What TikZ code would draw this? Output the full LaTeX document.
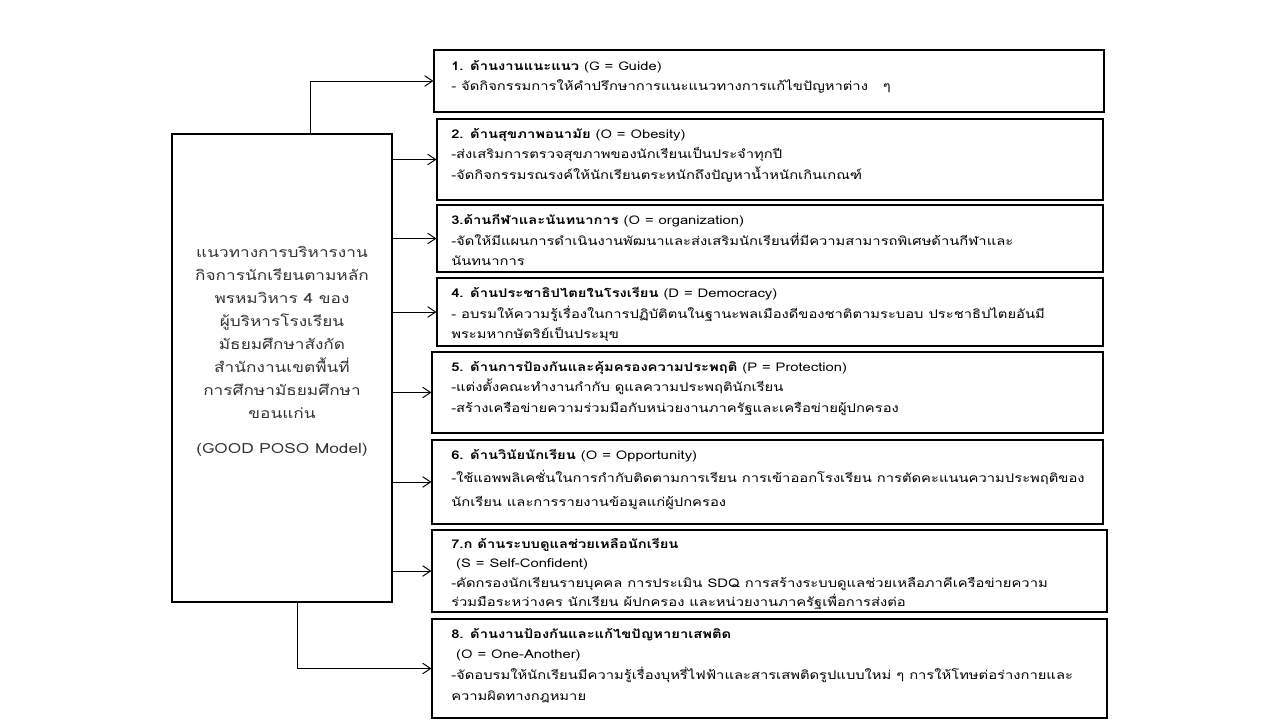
\documentclass[tikz,border=0pt]{standalone}
\usepackage{fontspec}
\setmainfont[Script=Thai,FakeStretch=1.23]{Loma}
\usetikzlibrary{arrows.meta,fit}

\tikzset{
	gbox/.style={draw,line width=0.9pt,inner sep=0pt},
	gtext/.style={anchor=north west,inner sep=0.75pt,align=left,font=\fontsize{9}{15.5}\selectfont},
	mtext/.style={anchor=north,inner sep=0.75pt,align=center,font=\fontsize{10.5}{17.25}\selectfont,text=black!80},
	arr/.style={-{Straight Barb[length=6pt,width=8pt]},line width=0.7pt}
}

\begin{document}
\begin{tikzpicture}[x=0.75pt,y=0.75pt,yscale=-1,xscale=1]
	\useasboundingbox (0,0) rectangle (1280,720);
	% main box and the eight parts
	\node [gbox,fit={(172,134) (392,602)}] (main) {};
	\node [gbox,fit={(434,50) (1104,112)}] (g1) {};
	\node [gbox,fit={(437,119) (1103,200)}] (g2) {};
	\node [gbox,fit={(437,205) (1103,272)}] (g3) {};
	\node [gbox,fit={(437,278) (1103,346)}] (g4) {};
	\node [gbox,fit={(432,352) (1103,433)}] (g5) {};
	\node [gbox,fit={(432,440) (1103,524)}] (g6) {};
	\node [gbox,fit={(432,530) (1107,612)}] (g7) {};
	\node [gbox,fit={(432,619) (1107,718)}] (g8) {};
	% texts
	\draw (282,245) node [mtext] (mainlbl) {แนวทางการบริหารงาน\\กิจการนักเรียนตามหลัก\\พรหมวิหาร 4 ของ\\ผู้บริหารโรงเรียน\\มัธยมศึกษาสังกัด\\สำนักงานเขตพื้นที่\\การศึกษามัธยมศึกษา\\ขอนแก่น\\[9pt](GOOD POSO Model)};
	\draw (450,59) node [gtext] (t1) {\textbf{1. ด้านงานแนะแนว} (G = Guide)\\- จัดกิจกรรมการให้คำปรึกษาการแนะแนวทางการแก้ไขปัญหาต่าง~~~ๆ};
	\draw (450,127) node [gtext] (t2) {\textbf{2. ด้านสุขภาพอนามัย} (O = Obesity)\\-ส่งเสริมการตรวจสุขภาพของนักเรียนเป็นประจำทุกปี\\-จัดกิจกรรมรณรงค์ให้นักเรียนตระหนักถึงปัญหาน้ำหนักเกินเกณฑ์};
	\draw (450,213) node [gtext] (t3) {\textbf{3.ด้านกีฬาและนันทนาการ} (O = organization)\\-จัดให้มีแผนการดำเนินงานพัฒนาและส่งเสริมนักเรียนที่มีความสามารถพิเศษด้านกีฬาและ\\นันทนาการ};
	\draw (450,286) node [gtext] (t4) {\textbf{4. ด้านประชาธิปไตยในโรงเรียน} (D = Democracy)\\- อบรมให้ความรู้เรื่องในการปฏิบัติตนในฐานะพลเมืองดีของชาติตามระบอบ ประชาธิปไตยอันมี\\พระมหากษัตริย์เป็นประมุข};
	\draw (450,360) node [gtext] (t5) {\textbf{5. ด้านการป้องกันและคุ้มครองความประพฤติ} (P = Protection)\\-แต่งตั้งคณะทำงานกำกับ ดูแลความประพฤตินักเรียน\\-สร้างเครือข่ายความร่วมมือกับหน่วยงานภาครัฐและเครือข่ายผู้ปกครอง};
	\draw (450,448) node [gtext] (t6) {\textbf{6. ด้านวินัยนักเรียน} (O = Opportunity)\\[1.5pt]-ใช้แอพพลิเคชั่นในการกำกับติดตามการเรียน การเข้าออกโรงเรียน การตัดคะแนนความประพฤติของ\\[2.5pt]นักเรียน และการรายงานข้อมูลแก่ผู้ปกครอง};
	\draw (450,537) node [gtext,font=\fontsize{9}{14.5}\selectfont] (t7) {\textbf{7.ก ด้านระบบดูแลช่วยเหลือนักเรียน}\\\ (S = Self-Confident)\\-คัดกรองนักเรียนรายบุคคล การประเมิน SDQ การสร้างระบบดูแลช่วยเหลือภาคีเครือข่ายความ\\ร่วมมือระหว่างคร นักเรียน ผ้ปกครอง และหน่วยงานภาครัฐเพื่อการส่งต่อ};
	\draw (450,627) node [gtext] (t8) {\textbf{8. ด้านงานป้องกันและแก้ไขปัญหายาเสพติด}\\\ (O = One-Another)\\-จัดอบรมให้นักเรียนมีความรู้เรื่องบุหรี่ไฟฟ้าและสารเสพติดรูปแบบใหม่ ๆ การให้โทษต่อร่างกายและ\\ความผิดทางกฎหมาย};
	% connectors
	\draw [arr] ([xshift=21pt]main.north) |- (g1.west);
	\draw [arr] (main.east |- g2) -- (g2.west);
	\draw [arr] (main.east |- g3) -- (g3.west);
	\draw [arr] (main.east |- g4) -- (g4.west);
	\draw [arr] (main.east |- g5) -- (g5.west);
	\draw [arr] (main.east |- g6) -- (g6.west);
	\draw [arr] (main.east |- g7) -- (g7.west);
	\draw [arr] ([xshift=11.25pt]main.south) |- (g8.west);
\end{tikzpicture}
\end{document}
